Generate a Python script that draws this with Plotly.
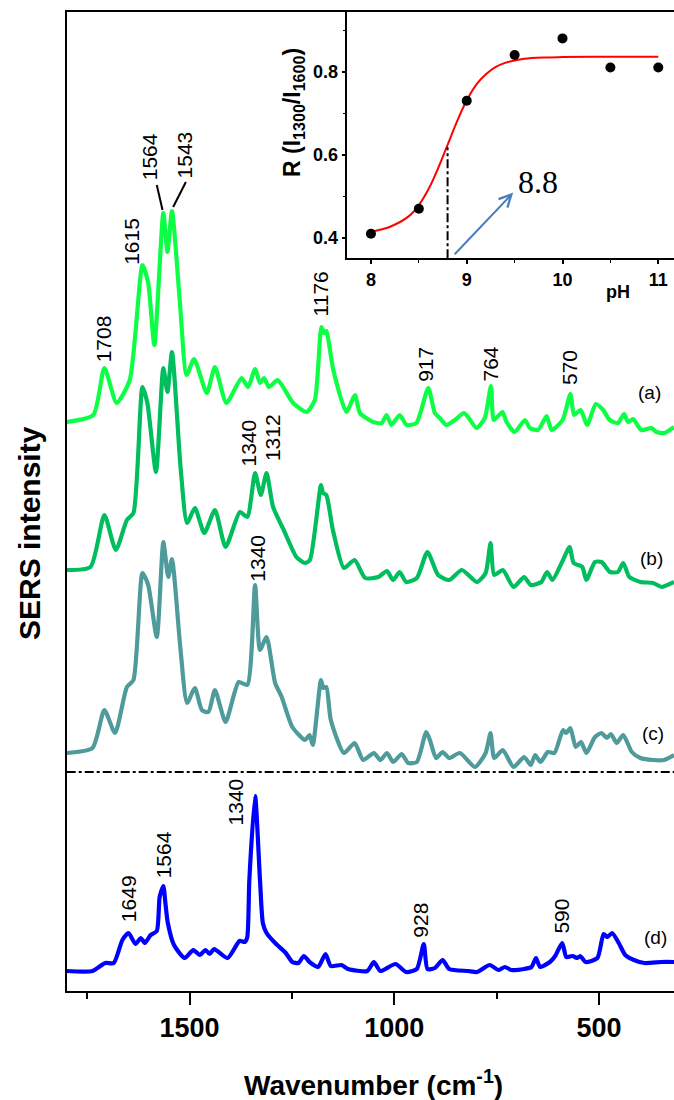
import plotly.graph_objects as go

# ---------------- data ----------------
wn_a = [1800,1735,1708,1678,1646,1615,1601,1586,1564,1554,1543,1524,1507,1489,1458,1438,1410,1373,1357,1340,
        1328,1318,1306,1285,1247,1214,1194,1178,1171,1166,1149,1117,1096,1084,1052,1031,1019,1007,987,970,
        946,917,901,889,873,852,830,820,799,779,764,757,736,726,706,681,669,649,628,616,
        589,570,561,545,529,508,490,474,454,439,429,417,397,372,360,340,317]
int_a = [0,7,54,19,42,157,139,77,209,170,211,122,47,63,29,55,19,44,35,53,
         39,44,35,42,19,10,22,95,89,91,52,10,27,9,0,-1,7,-3,7,-3,
         -1,34,9,4,-3,2,9,5,-6,4,36,2,10,0,-10,2,-6,-8,6,-8,
         2,28,7,12,-3,18,12,2,-1,8,0,3,-8,-6,-10,-11,-5]

wn_b = [1800,1742,1708,1680,1653,1637,1615,1603,1582,1564,1554,1543,1522,1506,1487,1464,1438,1412,1377,1359,
        1340,1326,1312,1296,1270,1239,1218,1206,1179,1174,1166,1150,1123,1097,1071,1039,1018,1003,987,971,
        945,919,893,866,835,798,777,765,756,735,709,683,667,641,627,614,588,572,562,541,
        531,510,494,473,454,441,426,399,368,347,317]
int_b = [0,3,55,20,50,57,183,167,98,202,178,218,103,47,62,37,60,23,58,53,
         97,75,97,63,40,13,7,10,85,77,75,40,2,10,-8,-7,-1,-10,-2,-12,
         -8,18,-5,-10,0,-12,-3,27,-5,0,-17,-7,-15,-12,-2,-10,10,23,7,3,
         -10,8,8,-2,-2,7,-7,-12,-13,-17,-12]

wn_c = [1800,1737,1708,1682,1653,1637,1615,1601,1580,1564,1552,1543,1522,1506,1487,1470,1454,1438,1412,1380,
        1359,1340,1328,1312,1291,1275,1249,1218,1207,1199,1179,1173,1166,1155,1123,1097,1076,1050,1034,1018,
        1003,982,966,945,922,913,898,882,866,840,803,777,765,756,735,709,683,667,656,643,
        625,609,588,580,570,557,544,531,510,494,481,471,457,441,420,399,368,342,317]
int_c = [0,5,43,20,66,73,180,168,116,211,176,194,103,50,65,43,41,63,31,71,
         68,168,103,116,70,56,26,13,18,8,73,65,66,33,0,10,-7,0,-7,0,
         -9,-1,-10,-9,21,13,-5,1,-5,0,-14,0,20,-5,3,-14,-4,-12,-2,-9,
         1,0,23,20,25,6,11,0,16,20,15,19,10,18,1,-5,-7,-7,-2]

wn_d = [1800,1737,1706,1685,1664,1649,1632,1619,1609,1595,1580,1573,1564,1559,1553,1538,1512,1491,1475,1461,
        1451,1440,1407,1378,1365,1359,1354,1340,1328,1321,1312,1291,1265,1249,1234,1221,1207,1186,1168,1155,
        1129,1113,1066,1050,1034,997,971,945,928,919,901,882,866,819,798,767,746,730,714,683,
        665,654,644,620,607,590,580,565,553,546,533,504,489,480,468,452,436,415,389,347,317]
int_d = [0,0,8,8,31,38,27,33,28,36,40,74,85,68,48,26,13,21,16,21,
         17,22,13,30,29,34,91,175,91,48,38,28,18,9,8,15,9,4,17,5,
         6,2,0,9,0,7,-1,2,27,2,3,11,2,0,-1,6,1,4,1,2,
         4,13,4,9,15,28,14,15,13,15,9,13,37,34,38,28,16,11,8,9,9]

spectra_names = ["(a)", "(b)", "(c)", "(d)"]
spectra_offsets = [569, 421, 238, 20]
separator_level = 219

# inset data
ph = [8, 8.5, 9, 9.5, 10, 10.5, 11]
ratio = [0.41, 0.47, 0.73, 0.84, 0.88, 0.81, 0.81]
fit_ph = [8.0, 8.2, 8.4, 8.5, 8.6, 8.7, 8.8, 8.9, 9.0, 9.1, 9.2, 9.3, 9.4, 9.5, 9.6, 9.8, 10.0, 10.5, 11.0]
fit_r = [0.415, 0.427, 0.453, 0.479, 0.517, 0.567, 0.624, 0.681, 0.731, 0.769, 0.794, 0.811, 0.821,
         0.827, 0.831, 0.834, 0.835, 0.836, 0.836]
pka = 8.8
pka_r = 0.618

# peak labels: (text, wavenumber position, level)
peak_labels = [("1708", 1708, 652), ("1615", 1641, 750), ("1564", 1596, 834), ("1543", 1510, 836),
               ("1176", 1178, 697), ("917", 923, 627), ("764", 765, 627), ("570", 571, 624),
               ("1340", 1356, 548), ("1312", 1296, 553), ("1340", 1336, 433),
               ("1649", 1650, 92), ("1564", 1564, 136), ("1340", 1388, 189),
               ("928", 938, 71), ("590", 594, 75)]
name_pos = [(376, 598), (373, 433), (368, 258), (363, 54)]

# ---------------- figure ----------------
W, H = 674, 1100
colors = ["#0cff45", "#00bd5e", "#4f9a9a", "#0000ff"]
FONT = "Liberation Sans"

fig = go.Figure()
for wn, inten, off, col in zip([wn_a, wn_b, wn_c, wn_d], [int_a, int_b, int_c, int_d], spectra_offsets, colors):
    fig.add_trace(go.Scatter(x=wn, y=[off + v for v in inten], mode="lines",
                             line=dict(color=col, width=4.2, shape="spline", smoothing=0.6),
                             xaxis="x", yaxis="y", hoverinfo="skip"))

# inset
fig.add_trace(go.Scatter(x=fit_ph, y=fit_r, mode="lines", line=dict(color="red", width=2, shape="spline"),
                         xaxis="x2", yaxis="y2", hoverinfo="skip"))
fig.add_trace(go.Scatter(x=ph, y=ratio, mode="markers", marker=dict(color="black", size=10),
                         xaxis="x2", yaxis="y2", hoverinfo="skip"))

shapes = [
    dict(type="line", xref="x domain", x0=0, x1=1, yref="y", y0=separator_level, y1=separator_level,
         line=dict(color="black", width=2, dash="dashdot")),
    dict(type="line", xref="x2", x0=pka, x1=pka, yref="y2", y0=0.351, y1=pka_r,
         line=dict(color="black", width=2, dash="dashdot")),
    # leader lines for 1564 / 1543
    dict(type="line", xref="x", yref="y", x0=1580, y0=806, x1=1566, y1=781, line=dict(color="black", width=2)),
    dict(type="line", xref="x", yref="y", x0=1509, y0=809, x1=1540, y1=784, line=dict(color="black", width=2)),
]

annotations = []
for txt, xw, yl in peak_labels:
    annotations.append(dict(text=txt, x=xw, y=yl, xref="x", yref="y", showarrow=False, textangle=-90,
                            font=dict(family=FONT, size=21, color="black")))
for nm, (xw, yl) in zip(spectra_names, name_pos):
    annotations.append(dict(text=nm, x=xw, y=yl, xref="x", yref="y", showarrow=False,
                            font=dict(family=FONT, size=19, color="black")))

annotations += [
    dict(text="SERS intensity", x=29 / W, y=1 - 533 / H, xref="paper", yref="paper", showarrow=False,
         textangle=-90, xanchor="center", yanchor="middle",
         font=dict(family=FONT, size=30, color="black", weight="bold")),
    dict(text="Wavenumber (cm<sup>-1</sup>)", x=374 / W, y=1 - 1083 / H, xref="paper", yref="paper",
         showarrow=False, xanchor="center", yanchor="middle",
         font=dict(family=FONT, size=28, color="black", weight="bold")),
    dict(text="R (I<sub>1300</sub>/I<sub>1600</sub>)", x=293 / W, y=1 - 113 / H, xref="paper", yref="paper",
         showarrow=False, textangle=-90, xanchor="center", yanchor="middle",
         font=dict(family=FONT, size=23, color="black", weight="bold")),
    dict(text="pH", x=618 / W, y=1 - 292 / H, xref="paper", yref="paper", showarrow=False,
         xanchor="center", yanchor="middle",
         font=dict(family=FONT, size=18, color="black", weight="bold")),
    dict(text="8.8", x=9.743, y=0.5346, xref="x2", yref="y2", showarrow=False,
         font=dict(family="Liberation Serif", size=32, color="black")),
    dict(text="", x=9.485, y=0.509, ax=8.859, ay=0.357, xref="x2", yref="y2", axref="x2", ayref="y2",
         showarrow=True, arrowhead=5, arrowsize=1.2, arrowwidth=2, arrowcolor="#4a7ebb"),
]

fig.update_layout(
    width=W, height=H, margin=dict(l=0, r=0, t=0, b=0, autoexpand=False),
    paper_bgcolor="white", plot_bgcolor="rgba(0,0,0,0)", showlegend=False,
    shapes=shapes, annotations=annotations,
    xaxis=dict(domain=[66.7 / W, 1], range=[1800, 317], anchor="y", showline=True, linewidth=2,
               linecolor="black", mirror=True, ticks="outside", ticklen=12, tickwidth=2, tickcolor="black",
               tick0=0, dtick=500, showgrid=False, zeroline=False, automargin=False,
               minor=dict(tick0=0, dtick=250, ticks="outside", ticklen=6, tickwidth=2, tickcolor="black",
                          showgrid=False),
               tickfont=dict(family=FONT, size=27, color="black", weight="bold")),
    yaxis=dict(domain=[1 - 991 / H, 1 - 12 / H], range=[0, 979], anchor="x", showline=True, linewidth=2,
               linecolor="black", showticklabels=False, ticks="", showgrid=False, zeroline=False,
               automargin=False),
    xaxis2=dict(domain=[347.3 / W, 1], range=[7.753, 11.164], anchor="y2", showline=True, linewidth=1.5,
                linecolor="black", ticks="outside", ticklen=4, tickwidth=1.5, tickcolor="black",
                tick0=0, dtick=1, showgrid=False, zeroline=False, automargin=False,
                minor=dict(tick0=0, dtick=0.5, ticks="outside", ticklen=3, tickwidth=1, tickcolor="black"),
                tickfont=dict(family=FONT, size=18, color="black", weight="bold")),
    yaxis2=dict(domain=[1 - 258.3 / H, 1 - 12 / H], range=[0.351, 0.9435], anchor="x2", showline=True,
                linewidth=1.5, linecolor="black", ticks="outside", ticklen=4, tickwidth=1.5, tickcolor="black",
                tick0=0, dtick=0.2, showgrid=False, zeroline=False, automargin=False,
                minor=dict(tick0=0, dtick=0.1, ticks="outside", ticklen=3, tickwidth=1, tickcolor="black"),
                tickfont=dict(family=FONT, size=18, color="black", weight="bold")),
)

fig.write_html("out.html")
